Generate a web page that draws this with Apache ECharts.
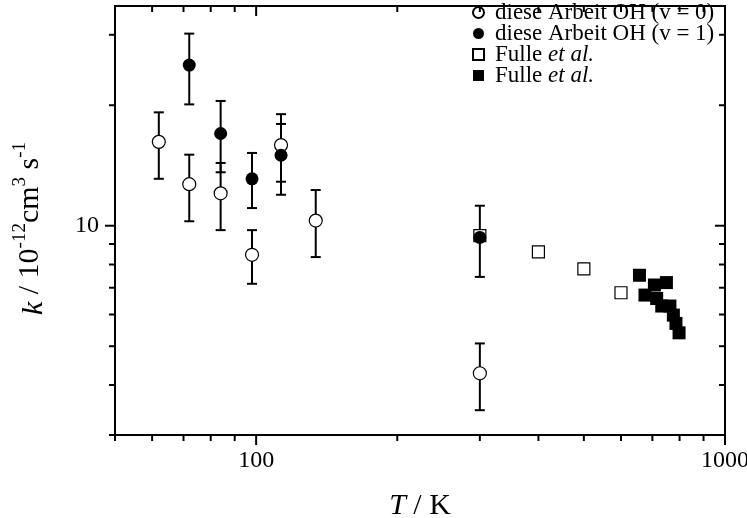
<!DOCTYPE html>
<html><head><meta charset="utf-8">
<script src="https://cdn.jsdelivr.net/npm/echarts@6/dist/echarts.min.js"></script>
<style>html,body{margin:0;padding:0;background:#fff}#c{width:747px;height:518px}</style>
</head><body><div id="c"></div>
<script>
// ---- data ----
const v0T  = [62, 72, 84, 98, 113, 134, 300];
const v0K  = [16.2, 12.7, 12.05, 8.46, 15.9, 10.3, 4.28];
const v0Lo = [13.1, 10.26, 9.75, 7.16, 12.88, 8.35, 3.46];
const v0Hi = [19.2, 15.05, 14.35, 9.75, 19.0, 12.28, 5.08];

const v1T  = [72, 84, 98, 113, 300];
const v1K  = [25.2, 17.0, 13.1, 15.0, 9.35];
const v1Lo = [20.1, 13.6, 11.07, 11.95, 7.45];
const v1Hi = [30.2, 20.5, 15.2, 17.96, 11.22];

const fulleOpenT = [300, 400, 500, 600];
const fulleOpenK = [9.45, 8.6, 7.8, 6.8];

const fulleFillT = [657, 707, 750, 675, 715, 733, 763, 776, 786, 798];
const fulleFillK = [7.52, 7.11, 7.21, 6.71, 6.58, 6.30, 6.30, 5.98, 5.70, 5.40];

const xMin = 50, xMax = 1000, yMin = 3, yMax = 35.4;
const xMajorTicks = [100, 1000];
const xTickLabels = ['100', '1000'];
const xMinorTicks = [50, 60, 70, 80, 90, 200, 300, 400, 500, 600, 700, 800, 900];
const yMajorTicks = [10];
const yTickLabels = ['10'];
const yMinorTicks = [3, 4, 5, 6, 7, 8, 9, 20, 30];

const names = ['diese Arbeit OH (v = 0)', 'diese Arbeit OH (v = 1)', 'Fulle et al.', 'Fulle et al.\u200b'];

// ---- chart ----
const FONT = '"Liberation Serif","Times New Roman",serif';
const chart = echarts.init(document.getElementById('c'), null, {renderer: 'canvas'});

function labelFor(v, majors, labels) {
  for (let i = 0; i < majors.length; i++) {
    if (Math.abs(v - majors[i]) < 1e-6 * majors[i]) return labels[i];
  }
  return '';
}

function errSeries(T, lo, hi) {
  return {
    type: 'custom', silent: true, z: 2,
    data: T.map((t, i) => [t, lo[i], hi[i]]),
    encode: {x: 0, y: [1, 2]},
    renderItem(params, api) {
      const t = api.value(0);
      const a = api.coord([t, api.value(1)]), b = api.coord([t, api.value(2)]);
      const w = 5, st = {stroke: '#000', lineWidth: 2};
      return {type: 'group', children: [
        {type: 'line', shape: {x1: a[0], y1: a[1], x2: b[0], y2: b[1]}, style: st},
        {type: 'line', shape: {x1: a[0] - w, y1: a[1], x2: a[0] + w, y2: a[1]}, style: st},
        {type: 'line', shape: {x1: b[0] - w, y1: b[1], x2: b[0] + w, y2: b[1]}, style: st}
      ]};
    }
  };
}

function xTickSeries(vals, len) {
  return {
    type: 'custom', silent: true, clip: false, z: 10,
    data: vals.map(v => [v, yMin]),
    renderItem(params, api) {
      const v = api.value(0);
      const b = api.coord([v, yMin]), t = api.coord([v, yMax]);
      const st = {stroke: '#000', lineWidth: 2};
      return {type: 'group', children: [
        {type: 'line', shape: {x1: b[0], y1: b[1], x2: b[0], y2: b[1] + len}, style: st},
        {type: 'line', shape: {x1: t[0], y1: t[1], x2: t[0], y2: t[1] + len}, style: st}
      ]};
    }
  };
}
function yTickSeries(vals, len) {
  return {
    type: 'custom', silent: true, clip: false, z: 10,
    data: vals.map(v => [xMin, v]),
    renderItem(params, api) {
      const v = api.value(1);
      const l = api.coord([xMin, v]), r = api.coord([xMax, v]);
      const st = {stroke: '#000', lineWidth: 2};
      return {type: 'group', children: [
        {type: 'line', shape: {x1: l[0], y1: l[1], x2: l[0] - len, y2: l[1]}, style: st},
        {type: 'line', shape: {x1: r[0], y1: r[1], x2: r[0] - len, y2: r[1]}, style: st}
      ]};
    }
  };
}

const option = {
  backgroundColor: '#fff',
  animation: false,
  grid: {left: 115, right: 22, top: 6, bottom: 83, containLabel: false, outerBoundsMode: 'none',
    show: true, borderColor: '#000', borderWidth: 2, backgroundColor: 'transparent'},
  xAxis: {
    type: 'log', logBase: 10, min: xMin, max: xMax,
    axisLine: {show: false}, axisTick: {show: false}, splitLine: {show: false}, minorTick: {show: false},
    axisLabel: {show: true, margin: 14, showMaxLabel: true, showMinLabel: true, hideOverlap: false,
      fontFamily: FONT, fontSize: 24, color: '#000',
      formatter: v => labelFor(v, xMajorTicks, xTickLabels)},
    name: '{i|T} / K', nameLocation: 'middle', nameGap: 56,
    nameTextStyle: {fontFamily: FONT, fontSize: 30, color: '#000',
      rich: {i: {fontFamily: FONT, fontSize: 30, fontStyle: 'italic', color: '#000'}}}
  },
  yAxis: {
    type: 'log', logBase: 10, min: yMin, max: yMax,
    axisLine: {show: false}, axisTick: {show: false}, splitLine: {show: false}, minorTick: {show: false},
    axisLabel: {show: true, margin: 16, fontFamily: FONT, fontSize: 24, color: '#000',
      formatter: v => labelFor(v, yMajorTicks, yTickLabels)},
    name: '{i|k} / 10{sup|-12}cm{sup|3} s{sup|-1}', nameLocation: 'middle', nameGap: 66, nameRotate: 90,
    nameTextStyle: {fontFamily: FONT, fontSize: 30, color: '#000', padding: [0, 16, 0, 0],
      rich: {
        i: {fontFamily: FONT, fontSize: 30, fontStyle: 'italic', color: '#000', lineHeight: 38, verticalAlign: 'bottom'},
        sup: {fontFamily: FONT, fontSize: 19, color: '#000', lineHeight: 38, verticalAlign: 'top'}
      }}
  },
  legend: {
    orient: 'vertical', left: 467, top: -4, itemWidth: 11, itemHeight: 11, itemGap: -2,
    data: names.map(n => ({name: n})),
    selectedMode: false,
    textStyle: {fontFamily: FONT, fontSize: 23, color: '#000', lineHeight: 18, padding: [0, 0, 0, 6],
      rich: {n: {fontFamily: FONT, fontSize: 23, color: '#000', lineHeight: 18},
             i: {fontFamily: FONT, fontSize: 23, color: '#000', fontStyle: 'italic', lineHeight: 18}}},
    formatter: name => name.indexOf('Fulle') === 0 ? '{n|Fulle }{i|et al.}' : name
  },
  series: [
    errSeries(v0T, v0Lo, v0Hi),
    errSeries(v1T, v1Lo, v1Hi),
    {name: names[2], type: 'scatter', symbol: 'rect', symbolSize: 12, z: 3,
     itemStyle: {color: '#fff', borderColor: '#000', borderWidth: 1.2, opacity: 1},
     data: fulleOpenT.map((t, i) => [t, fulleOpenK[i]])},
    {name: names[3], type: 'scatter', symbol: 'rect', symbolSize: 13, z: 3,
     itemStyle: {color: '#000', opacity: 1},
     data: fulleFillT.map((t, i) => [t, fulleFillK[i]])},
    {name: names[0], type: 'scatter', symbol: 'circle', symbolSize: 13, z: 4,
     itemStyle: {color: '#fff', borderColor: '#000', borderWidth: 1.2, opacity: 1},
     data: v0T.map((t, i) => [t, v0K[i]])},
    {name: names[1], type: 'scatter', symbol: 'circle', symbolSize: 13, z: 5,
     itemStyle: {color: '#000', opacity: 1},
     data: v1T.map((t, i) => [t, v1K[i]])},
    xTickSeries(xMajorTicks, 10),
    xTickSeries(xMinorTicks, 6),
    yTickSeries(yMajorTicks, 10),
    yTickSeries(yMinorTicks, 6)
  ]
};
chart.setOption(option);
</script>
</body></html>
